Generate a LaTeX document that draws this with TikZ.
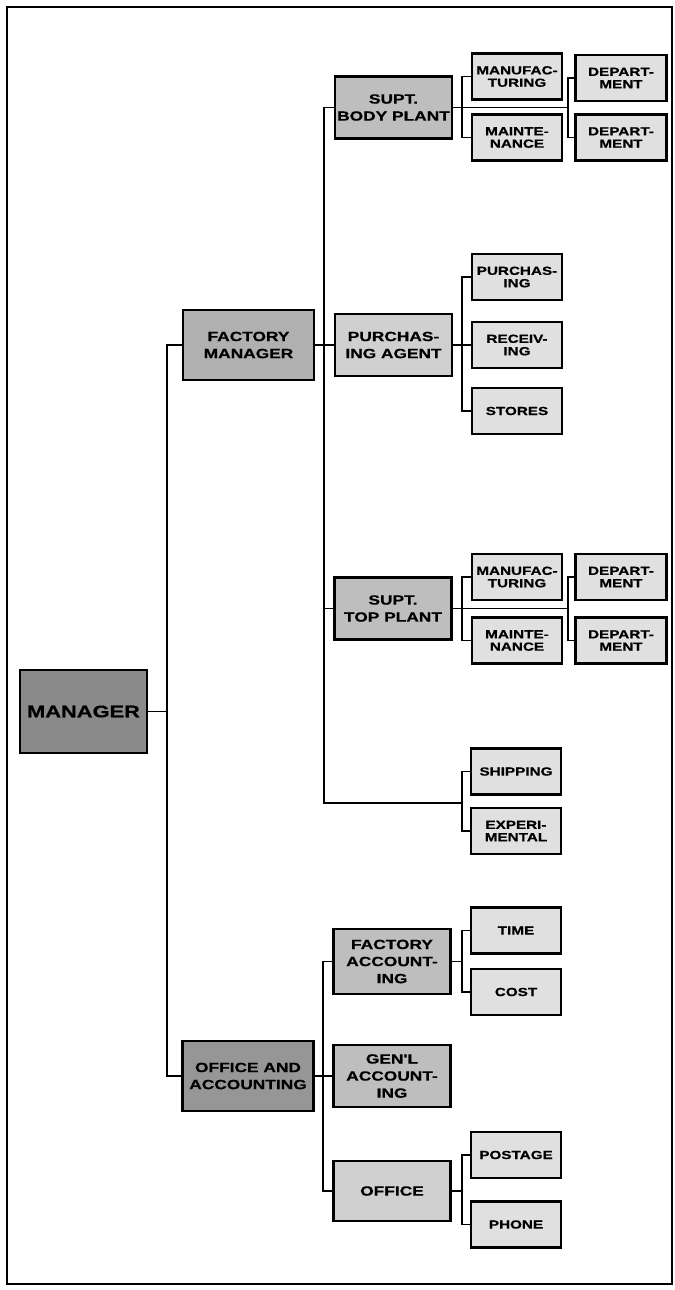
\documentclass[tikz,border=0pt]{standalone}
\usepackage{fontspec}
\newfontfamily\chartfont{Liberation Sans}[FakeStretch=1.3, FakeBold=0.6]
\usepackage{tikz}
\usetikzlibrary{calc}
\definecolor{headgray}{RGB}{138,138,138}
\definecolor{deptgray}{RGB}{176,176,176}
\definecolor{supgray}{RGB}{190,190,190}
\definecolor{midgray}{RGB}{208,208,208}
\definecolor{leafgray}{RGB}{224,224,224}

\begin{document}
\begin{tikzpicture}[
    x=0.75pt, y=-0.75pt,
    box/.style={rectangle, draw=black, line width=1.7pt, align=center, inner sep=0pt, font=\chartfont\bfseries},
    head/.style={box, fill=headgray, minimum width=95.25pt, minimum height=62.25pt, font=\chartfont\bfseries\fontsize{12.6}{14}\selectfont},
    dept/.style={box, fill=deptgray, minimum width=98.25pt, minimum height=52.5pt, font=\chartfont\bfseries\fontsize{10}{12.8}\selectfont},
    sub/.style={box, fill=supgray, minimum width=87.75pt, minimum height=46.5pt, font=\chartfont\bfseries\fontsize{10}{12.8}\selectfont},
    leaf/.style={box, fill=leafgray, minimum width=67.5pt, minimum height=34.5pt, font=\chartfont\bfseries\fontsize{8.8}{9.3}\selectfont},
    link/.style={draw=black, line width=1.35pt}
]
    \useasboundingbox (0,0) rectangle (675,1290);
    \draw[line width=1.6pt] (7,7) rectangle (672,1284);

    % top levels
    \node[head] (mgr) at (83.5,711.5) {MANAGER};
    \node[dept] (fm) at (248.5,345) {FACTORY\\MANAGER};
    \node[dept, fill=deptgray!85!black] (oa) at (248,1076) {OFFICE AND\\ACCOUNTING};

    % factory side
    \node[sub] (sbp) at (393.5,107.5) {SUPT.\\BODY PLANT};
    \node[sub, fill=midgray] (pa) at (393.5,345) {PURCHAS-\\ING AGENT};
    \node[sub] (stp) at (393,608.5) {SUPT.\\TOP PLANT};

    \node[leaf] (mf1) at (517,76.5) {MANUFAC-\\TURING};
    \node[leaf] (mt1) at (517,137.5) {MAINTE-\\NANCE};
    \node[leaf, minimum width=68.25pt] (dp1) at (621,78) {DEPART-\\MENT};
    \node[leaf, minimum width=68.25pt] (dp2) at (621,137.5) {DEPART-\\MENT};

    \node[leaf] (pu) at (517,277) {PURCHAS-\\ING};
    \node[leaf] (rc) at (517,345) {RECEIV-\\ING};
    \node[leaf] (st) at (517,411) {STORES};

    \node[leaf] (mf2) at (517,577) {MANUFAC-\\TURING};
    \node[leaf] (mt2) at (517,640.5) {MAINTE-\\NANCE};
    \node[leaf, minimum width=68.25pt] (dp3) at (621,577) {DEPART-\\MENT};
    \node[leaf, minimum width=68.25pt] (dp4) at (621,640.5) {DEPART-\\MENT};

    \node[leaf] (sh) at (516,771.5) {SHIPPING};
    \node[leaf] (ex) at (516,831) {EXPERI-\\MENTAL};

    % office side
    \node[sub, minimum height=48.75pt] (fa) at (392,961.5) {FACTORY\\ACCOUNT-\\ING};
    \node[sub] (ga) at (392,1076) {GEN'L\\ACCOUNT-\\ING};
    \node[sub, fill=midgray, minimum height=45pt] (off) at (392,1191) {OFFICE};

    \node[leaf] (ti) at (516,930.5) {TIME};
    \node[leaf] (co) at (516,992) {COST};
    \node[leaf] (po) at (516,1155) {POSTAGE};
    \node[leaf] (ph) at (516,1224.5) {PHONE};

    % junctions
    \coordinate (tmain) at (167,711.5);
    \coordinate (tfac) at (324,803);
    \coordinate (jship) at (462,803);
    \coordinate (toff) at (323,1076);
    \coordinate (jb1) at (462,107.5);
    \coordinate (jd1) at (568,107.5);
    \coordinate (jpa) at (462,345);
    \coordinate (jb2) at (462,608.5);
    \coordinate (jd2) at (568,608.5);
    \coordinate (jfa) at (462,961.5);
    \coordinate (joff) at (462,1191);

    \path[link] (mgr) -- (tmain);
    \path[link] (fm.west) -| (tmain) |- (oa.west);

    \path[link] (sbp.west) -| (tfac) -- (jship);
    \path[link] (fm.east) -- (pa.west);
    \path[link] (stp.west) -- (stp.west -| tfac);
    \path[link] (sh.west) -| (jship) |- (ex.west);

    \path[link] (sbp.east) -- (jd1);
    \path[link] (mf1.west) -| (jb1) |- (mt1.west);
    \path[link] (dp1.west) -| (jd1) |- (dp2.west);

    \path[link] (pa.east) -- (rc.west);
    \path[link] (pu.west) -| (jpa) |- (st.west);

    \path[link] (stp.east) -- (jd2);
    \path[link] (mf2.west) -| (jb2) |- (mt2.west);
    \path[link] (dp3.west) -| (jd2) |- (dp4.west);

    \path[link] (fa.west) -| (toff) |- (off.west);
    \path[link] (oa.east) -- (ga.west);
    \path[link] (fa.east) -- (jfa);
    \path[link] (ti.west) -| (jfa) |- (co.west);
    \path[link] (off.east) -- (joff);
    \path[link] (po.west) -| (joff) |- (ph.west);
\end{tikzpicture}
\end{document}
